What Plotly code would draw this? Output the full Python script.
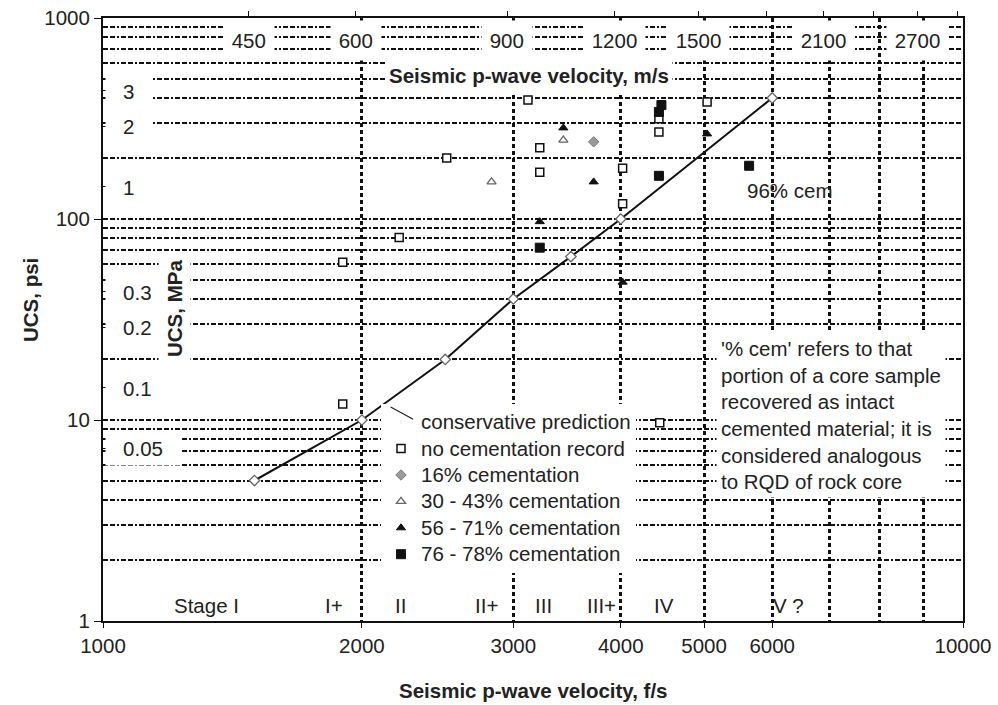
import math
import plotly.graph_objects as go

# ---------------- data ----------------
# conservative prediction curve (ft/s, psi)
cons_x = [1500, 2000, 2500, 3000, 3500, 4000, 6000]
cons_y = [5, 10, 20, 40, 65, 100, 400]

# no cementation record (open squares)
nocem_x = [1900, 1900, 2210, 2510, 3120, 3220, 3220, 4020, 4020, 4430, 4430, 5040, 4440]
nocem_y = [12, 61, 81, 201, 391, 226, 171, 179, 119, 315, 271, 382, 9.7]

# 16% cementation
c16_x = [3720]
c16_y = [242]

# 30 - 43% cementation
c30_x = [2830, 3430]
c30_y = [153, 247]

# 56 - 71% cementation
c56_x = [3430, 3720, 3220, 4020, 5040]
c56_y = [284, 153, 97, 48.5, 265]

# 76 - 78% cementation
c76_x = [3220, 4460, 4430, 4430, 5640]
c76_y = [72, 369, 341, 164, 184]

# axes ticks
x_ticks = [1000, 2000, 3000, 4000, 5000, 6000, 10000]
x_minor = [7000, 8000, 9000]
y_ticks = [1, 10, 100, 1000]
y_minor = [2, 3, 4, 5, 6, 7, 8, 9, 20, 30, 40, 50, 60, 70, 80, 90,
           200, 300, 400, 500, 600, 700, 800, 900]
ms_ticks = [450, 600, 900, 1200, 1500, 1800, 2100, 2400, 2700, 3000]
ms_labels = [450, 600, 900, 1200, 1500, 2100, 2700]
mpa_ticks = [0.05, 0.1, 0.2, 0.3, 1, 2, 3]
FT_PER_M = 3.28084
PSI_PER_MPA = 145.038

stage_names = ["Stage I", "I+", "II", "II+", "III", "III+", "IV", "V ?"]
stage_x = [1321, 1855, 2220, 2790, 3250, 3800, 4490, 6270]

note_text = ("'% cem' refers to that<br>portion of a core sample<br>recovered as intact"
             "<br>cemented material; it is<br>considered analogous<br>to RQD of rock core")

FONT = "Liberation Sans, Arial, sans-serif"
TXT = "#222"
FS = 20.5
NB = "\u00a0"


def leg(name):
    return "<span style='font-size:20.5px'>" + name + "</span>"


fig = go.Figure()

fig.add_trace(go.Scatter(
    x=cons_x, y=cons_y, mode="lines+markers", name="conservative prediction",
    line=dict(color="#111", width=2),
    marker=dict(symbol="diamond", size=8, color="white", line=dict(color="#666", width=1.3)),
    showlegend=False))

# legend entry (text only)
fig.add_trace(go.Scatter(x=[None], y=[None], mode="markers", name=leg("conservative prediction"),
                         marker=dict(size=1, opacity=0)))

fig.add_trace(go.Scatter(
    x=nocem_x, y=nocem_y, mode="markers", name=leg("no cementation record"),
    marker=dict(symbol="square", size=8, color="white", line=dict(color="#111", width=1.5))))
fig.add_trace(go.Scatter(
    x=c16_x, y=c16_y, mode="markers", name=leg("16% cementation"),
    marker=dict(symbol="diamond", size=8, color="#9a9a9a", line=dict(color="#777", width=1))))
fig.add_trace(go.Scatter(
    x=c30_x, y=c30_y, mode="markers", name=leg("30 - 43% cementation"),
    marker=dict(symbol="triangle-up", size=8, color="white", line=dict(color="#666", width=1.3))))
fig.add_trace(go.Scatter(
    x=c56_x, y=c56_y, mode="markers", name=leg("56 - 71% cementation"),
    marker=dict(symbol="triangle-up", size=8, color="#111", line=dict(color="#111", width=1))))
fig.add_trace(go.Scatter(
    x=c76_x, y=c76_y, mode="markers", name=leg("76 - 78% cementation"),
    marker=dict(symbol="square", size=9, color="#111", line=dict(color="#111", width=1))))

# empty trace so the secondary (m/s, MPa) axes exist
fig.add_trace(go.Scatter(x=[], y=[], xaxis="x2", yaxis="y2", showlegend=False, hoverinfo="skip"))

HDASH = "5px,2px,5px,2px,2px,2px"
VDASH = "4px,3px"

annotations = []

# top m/s labels (inside the plot, white boxes)
for v in ms_labels:
    annotations.append(dict(
        xref="x2", x=math.log10(v), xanchor="center", yref="paper", y=1, yanchor="top",
        yshift=-2, text=NB + str(v) + NB, showarrow=False, height=35, bgcolor="white",
        borderpad=2, font=dict(family=FONT, size=FS, color=TXT)))

# top axis title
annotations.append(dict(
    xref="paper", x=0.4953, xanchor="center", yref="paper", y=0.9055, yanchor="middle",
    text="<b>Seismic p-wave velocity, m/s</b>",
    showarrow=False, bgcolor="white", borderpad=3, height=32,
    font=dict(family=FONT, size=FS, color=TXT)))

# MPa labels inside the plot
for v in mpa_ticks:
    annotations.append(dict(
        xref="paper", x=0, xanchor="left", xshift=2, yref="y2", y=math.log10(v),
        yanchor="middle", text=NB * 3 + str(v) + NB * 3, showarrow=False, height=34,
        bgcolor="white", borderpad=0, font=dict(family=FONT, size=FS, color=TXT)))

annotations.append(dict(
    xref="paper", x=(174 - 103) / 860, xanchor="center", yref="paper", y=(621 - 309) / 603,
    yanchor="middle", text="<b>UCS, MPa</b>", textangle=-90, showarrow=False,
    bgcolor="white", borderpad=4, font=dict(family=FONT, size=FS, color=TXT)))

# axis titles
annotations.append(dict(
    xref="paper", x=(30 - 103) / 860, xanchor="center", yref="paper", y=(621 - 300) / 603,
    yanchor="middle", text="<b>UCS, psi</b>", textangle=-90, showarrow=False,
    font=dict(family=FONT, size=FS, color=TXT)))
annotations.append(dict(
    xref="paper", x=0.5, xanchor="center", yref="paper", y=(621 - 690) / 603,
    yanchor="middle", text="<b>Seismic p-wave velocity, f/s</b>", showarrow=False,
    font=dict(family=FONT, size=FS, color=TXT)))

# stage labels
for name, v in zip(stage_names, stage_x):
    annotations.append(dict(
        xref="x", x=math.log10(v), xanchor="center", yref="paper", y=(621 - 605) / 603,
        yanchor="middle", text=name, showarrow=False,
        font=dict(family=FONT, size=FS, color=TXT)))

# 96% cem
annotations.append(dict(
    xref="x", x=math.log10(5573), xanchor="left", yref="y", y=math.log10(139),
    yanchor="middle", text="96% cem", showarrow=False,
    font=dict(family=FONT, size=FS, color=TXT)))

# explanatory note
annotations.append(dict(
    xref="paper", x=(716 - 103) / 860, xanchor="left", yref="paper", y=(621 - 332) / 603,
    yanchor="top", text=note_text, align="left", showarrow=False, bgcolor="white",
    borderpad=4, font=dict(family=FONT, size=FS, color=TXT)))

# leader line to the conservative prediction curve
annotations.append(dict(
    xref="x", x=math.log10(2160), yref="y", y=math.log10(11.6), text="",
    showarrow=True, arrowhead=0, arrowwidth=1.3, arrowcolor="#222", ax=24, ay=13))

fig.update_layout(
    width=998, height=705,
    margin=dict(l=103, r=35, t=18, b=84, autoexpand=False),
    paper_bgcolor="white", plot_bgcolor="white",
    font=dict(family=FONT, size=FS, color=TXT),
    showlegend=True,
    legend=dict(x=(381 - 103) / 860, xanchor="left", y=(621 - 404) / 603, yanchor="top",
                bgcolor="white", borderwidth=0, itemwidth=30, tracegroupgap=0,
                font=dict(family=FONT, size=18, color=TXT), itemsizing="trace"),
    xaxis=dict(
        type="log", range=[3, 4], tickvals=x_ticks, ticktext=[str(v) for v in x_ticks],
        showline=True, linecolor="#111", linewidth=2, mirror=True, automargin=False,
        ticks="outside", ticklen=5, tickcolor="#111",
        showgrid=True, gridcolor="#111", gridwidth=2.5, griddash=VDASH,
        minor=dict(tickvals=x_minor, showgrid=True, gridcolor="#111", gridwidth=2.5,
                   griddash=VDASH, ticks=""),
        tickfont=dict(family=FONT, size=FS, color=TXT), zeroline=False),
    yaxis=dict(
        type="log", range=[0, 3], tickvals=y_ticks, ticktext=[str(v) for v in y_ticks],
        showline=True, linecolor="#111", linewidth=2, mirror=True, automargin=False,
        ticks="outside", ticklen=7, tickcolor="#111",
        showgrid=True, gridcolor="#111", gridwidth=2, griddash=HDASH,
        minor=dict(tickvals=y_minor, showgrid=True, gridcolor="#111", gridwidth=2,
                   griddash=HDASH, ticks="inside", ticklen=4, tickcolor="#111"),
        tickfont=dict(family=FONT, size=FS, color=TXT), zeroline=False),
    xaxis2=dict(
        type="log", overlaying="x", side="top", anchor="y", automargin=False,
        range=[math.log10(1000 / FT_PER_M), math.log10(10000 / FT_PER_M)],
        tickvals=ms_ticks, showticklabels=False, ticks="outside", ticklen=6,
        tickcolor="#111", showgrid=False, showline=False, zeroline=False),
    yaxis2=dict(
        type="log", overlaying="y", side="left", anchor="x", automargin=False,
        range=[math.log10(1 / PSI_PER_MPA), math.log10(1000 / PSI_PER_MPA)],
        tickvals=mpa_ticks, showticklabels=False, ticks="inside", ticklen=7,
        tickcolor="#111", showgrid=False, showline=False, zeroline=False),
    annotations=annotations,
)

fig.write_html("out.html", config={"displayModeBar": False},
               post_script="document.body.style.margin='0';document.body.style.overflow='hidden';")
